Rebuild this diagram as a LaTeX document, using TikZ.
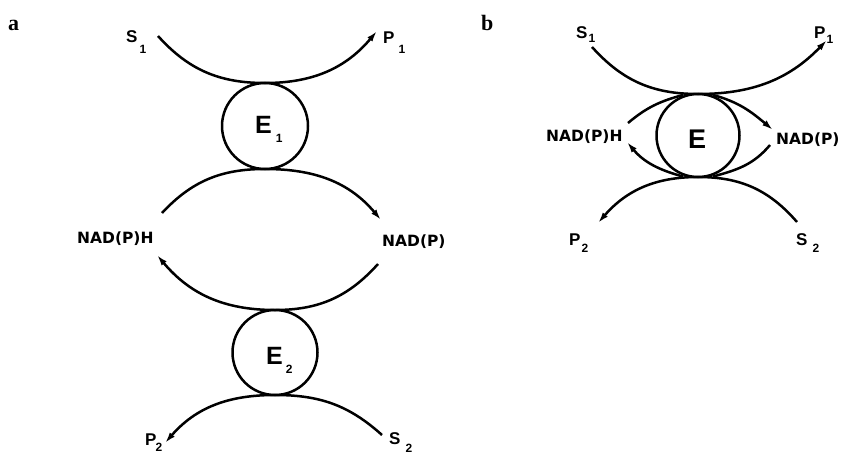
\documentclass[tikz,border=0pt]{standalone}
\usepackage{fontspec}
\setmainfont{Liberation Sans}
\newfontfamily\nadfont{DejaVu Sans}
\newfontfamily\panelfont{Liberation Serif}
\usetikzlibrary{arrows.meta}
\newcommand\lsub[3]{\kern#1\raisebox{-#2}{\fontsize{12}{12}\selectfont\bfseries #3}}
\begin{document}
\begin{tikzpicture}[x=1pt,y=1pt,
  flow/.style={line width=2.5pt},
  tip/.style={-{Latex[length=11pt,width=6.5pt]}},
  enz/.style={circle,draw,line width=2.5pt,inner sep=0pt,outer sep=0pt},
  lbl/.style={inner sep=0pt,anchor=base west,font=\fontsize{17}{17}\selectfont\bfseries},
  elbl/.style={inner sep=0pt,anchor=base west,font=\fontsize{25}{25}\selectfont\bfseries},
  nad/.style={inner sep=0pt,anchor=base west,font=\nadfont\fontsize{15.5}{15.5}\selectfont\bfseries},
  panel/.style={inner sep=0pt,anchor=base west,font=\panelfont\fontsize{22}{22}\selectfont\bfseries}]
\fill[white] (0,0) rectangle (843,-455);
\useasboundingbox (0,0) rectangle (843,-455);

% panel labels
\node[panel] (la) at (8,-30) {a};
\node[panel] (lb) at (481,-30) {b};

% ---------- panel a ----------
\node[enz,minimum size=86pt] (e1) at (265,-126) {};
\node[enz,minimum size=85pt] (e2) at (275,-352.5) {};
\node[elbl] (e1t) at (255,-133) {E\lsub{4pt}{9pt}{1}};
\node[elbl] (e2t) at (266,-364) {E\lsub{3pt}{9pt}{2}};
\node[lbl] (s1a) at (126,-42) {S\lsub{2pt}{11pt}{1}};
\node[lbl] (p1a) at (383,-43) {P\lsub{4pt}{10pt}{1}};
\node[nad] (nadha) at (77,-243) {NAD(P)H};
\node[nad] (nada) at (382,-246) {NAD(P)};
\node[lbl] (p2a) at (145,-445) {P\lsub{-1pt}{6pt}{2}};
\node[lbl] (s2a) at (389,-444) {S\lsub{5pt}{8pt}{2}};

\coordinate (a1s) at (158,-36);
\coordinate (a1e) at (377,-31);
\coordinate (a2s) at (162,-213);
\coordinate (a2e) at (381,-220);
\coordinate (a3s) at (378,-264);
\coordinate (a3e) at (157,-255);
\coordinate (a4s) at (382,-435);
\coordinate (a4e) at (165,-443);

\draw[flow,tip] (a1s) to[out=-48,in=180] (e1.north) to[out=0,in=-130] (a1e);
\draw[flow,tip] (a2s) to[out=47,in=180] (e1.south) to[out=0,in=130] (a2e);
\draw[flow,tip] (a3s) to[out=-132,in=0] (e2.north) to[out=180,in=-50] (a3e);
\draw[flow,tip] (a4s) to[out=138,in=0] (e2.south) to[out=180,in=49] (a4e);

% ---------- panel b ----------
\node[enz,minimum size=83pt] (eb) at (698,-135.5) {};
\node[inner sep=0pt,anchor=base west,font=\fontsize{27}{27}\selectfont\bfseries] (ebt) at (688,-148) {E};
\node[lbl] (s1b) at (576,-38) {S\lsub{1pt}{4pt}{1}};
\node[lbl] (p1b) at (814,-38) {P\lsub{1pt}{5pt}{1}};
\node[nad] (nadhb) at (546,-141) {NAD(P)H};
\node[nad] (nadb) at (776,-144) {NAD(P)};
\node[lbl] (p2b) at (569,-245) {P\lsub{1pt}{7pt}{2}};
\node[lbl] (s2b) at (796,-245) {S\lsub{5pt}{7pt}{2}};

\coordinate (b1s) at (592,-47);
\coordinate (b1e) at (827,-40);
\coordinate (b2s) at (797,-222);
\coordinate (b2e) at (598,-223);
\coordinate (bt1) at (683,-95);
\coordinate (bt2) at (713,-95);
\coordinate (bb1) at (683,-176.5);
\coordinate (bb2) at (713,-176.5);
\coordinate (bnr1) at (773,-130);
\coordinate (bnr2) at (770,-145);
\coordinate (bnl1) at (628,-123);
\coordinate (bnl2) at (627,-142);

\draw[flow,tip] (b1s) to[out=-48,in=180] (eb.north) to[out=0,in=-134] (b1e);
\draw[flow,tip] (b2s) to[out=131,in=0] (eb.south) to[out=180,in=49] (b2e);
\draw[flow,tip] (bt2) to[out=-15,in=140] (bnr1);
\draw[flow] (bnr2) to[out=-130,in=15] (bb2);
\draw[flow] (bt1) to[out=-165,in=40] (bnl1);
\draw[flow,tip] (bb1) to[out=165,in=-50] (bnl2);
\end{tikzpicture}
\end{document}
